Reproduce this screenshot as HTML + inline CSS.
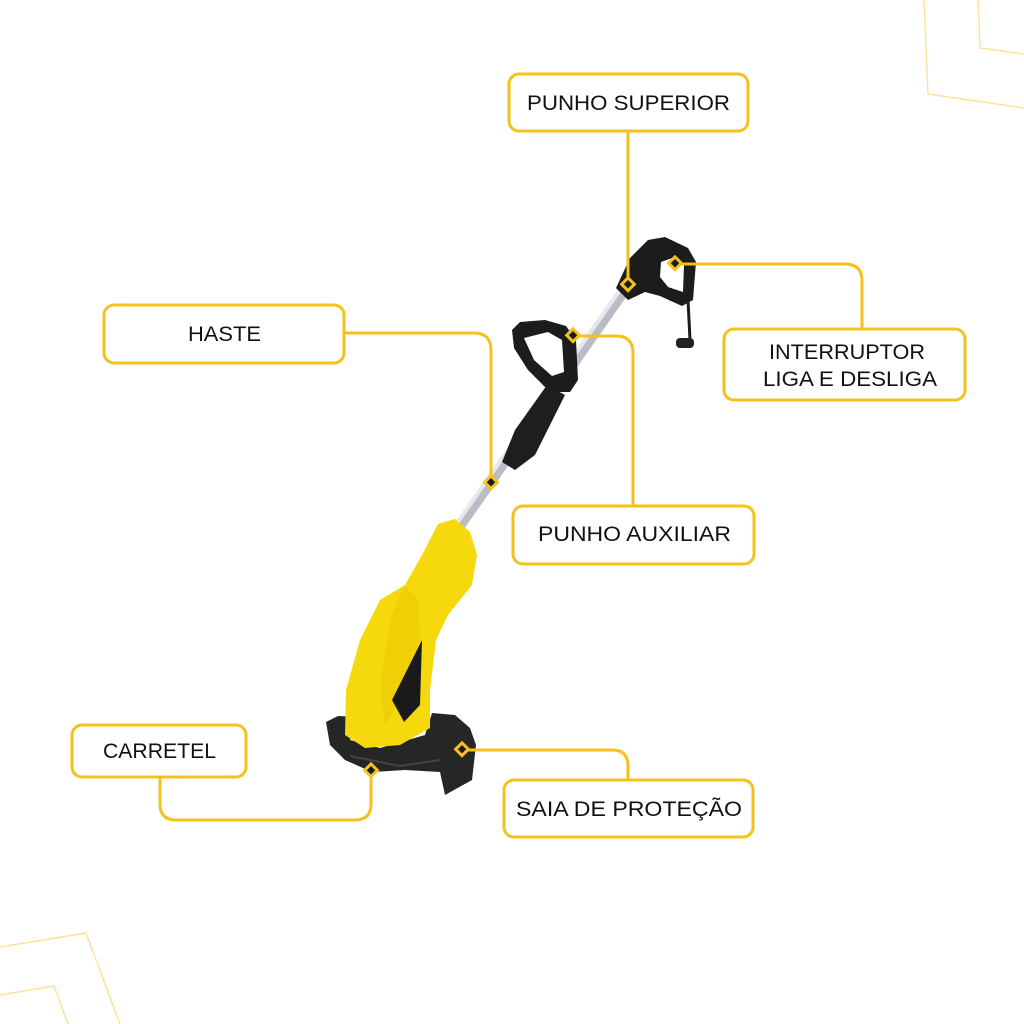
<!DOCTYPE html>
<html><head><meta charset="utf-8"><style>
html,body{margin:0;padding:0;background:#fff;}
svg{display:block}
text{font-family:"Liberation Sans",sans-serif;font-size:21px;fill:#111;}
</style></head><body>
<svg width="1024" height="1024" viewBox="0 0 1024 1024" xmlns="http://www.w3.org/2000/svg">
<g fill="none" stroke="#FBE39A" stroke-width="1.5">
<polyline points="924,0 928,94 1024,108"/>
<polyline points="978,0 980,48 1024,54"/>
<polyline points="0,947 86,933 120,1024"/>
<polyline points="0,995 54,986 68,1024"/>
</g>

<!-- shaft -->
<line x1="458" y1="528" x2="630" y2="282" stroke="#b9bcc4" stroke-width="11"/>
<line x1="455" y1="526" x2="627" y2="280" stroke="#e6e8ee" stroke-width="4"/>
<!-- top handle -->
<path d="M616,288 L630,258 L648,240 L665,237 L688,248 L696,262 L693,300 L682,306 L660,296 L645,292 L628,300 Z" fill="#1c1c1c"/>
<path d="M661,262 L675,257 L684,265 L683,292 L668,287 L660,277 Z" fill="#fff"/>
<path d="M688,300 L690,340" stroke="#1c1c1c" stroke-width="3" fill="none"/>
<rect x="676" y="338" width="18" height="10" rx="4" fill="#222"/>
<!-- aux handle loop -->
<path d="M512,330 L520,322 L545,320 L566,326 L576,340 L578,380 L570,392 L550,392 L528,370 L514,348 Z" fill="#1c1c1c"/>
<path d="M524,338 L548,332 L562,340 L564,372 L552,376 L534,360 Z" fill="#fff"/>
<!-- aux grip -->
<path d="M547,385 L565,395 L535,455 L515,470 L502,462 L515,430 Z" fill="#1e1e1e"/>
<!-- guard -->
<path d="M326,722 L338,716 L360,717 L350,740 L380,748 L425,735 L432,713 L455,715 L470,728 L476,745 L472,780 L445,795 L440,772 L405,770 L372,772 L345,760 L330,745 Z" fill="#262626"/>
<!-- yellow body -->
<path d="M438,524 L455,519 L470,532 L477,555 L472,585 L448,615 L436,640 L430,690 L430,728 L400,745 L365,748 L345,735 L346,690 L360,640 L380,600 L405,585 L422,555 Z" fill="#F6D90C"/>
<path d="M405,585 L418,600 L420,640 L400,700 L385,725 L380,690 L390,620 Z" fill="#ebc900" opacity="0.6"/>
<path d="M422,640 L420,705 L404,722 L392,700 Z" fill="#1a1a1a"/>
<path d="M350,756 L400,766 L440,760" stroke="#444" stroke-width="2" fill="none"/>

<!-- connectors -->
<g fill="none" stroke="#F5C21B" stroke-width="3" stroke-linejoin="round">
<path d="M628,131 L628,285"/>
<path d="M675,264 L845,264 Q862,264 862,281 L862,329"/>
<path d="M344,333 L474,333 Q491,333 491,350 L491,483"/>
<path d="M573,336 L616,336 Q633,336 633,353 L633,505"/>
<path d="M160,777 L160,804 Q160,820 176,820 L355,820 Q371,820 371,804 L371,771"/>
<path d="M462,750 L612,750 Q628,750 628,766 L628,780"/>
</g>
<g fill="#1c1c1c" stroke="#F5C21B" stroke-width="3">
<rect x="623" y="280" width="9" height="9" transform="rotate(45 628 285)"/>
<rect x="670" y="259" width="9" height="9" transform="rotate(45 675 264)"/>
<rect x="486" y="478" width="9" height="9" transform="rotate(45 491 483)"/>
<rect x="568" y="331" width="9" height="9" transform="rotate(45 573 336)"/>
<rect x="366" y="766" width="9" height="9" transform="rotate(45 371 771)"/>
<rect x="457" y="745" width="9" height="9" transform="rotate(45 462 750)"/>
</g>

<g fill="#fff" stroke="#F5C21B" stroke-width="3">
<rect x="509" y="74" width="239" height="57" rx="10"/>
<rect x="724" y="329" width="241" height="71" rx="10"/>
<rect x="104" y="305" width="240" height="58" rx="10"/>
<rect x="513" y="506" width="241" height="58" rx="10"/>
<rect x="72" y="725" width="174" height="52" rx="10"/>
<rect x="504" y="780" width="249" height="57" rx="10"/>
</g>
<text x="527" y="110" textLength="203" lengthAdjust="spacingAndGlyphs">PUNHO SUPERIOR</text>
<text x="769" y="359" textLength="156" lengthAdjust="spacingAndGlyphs">INTERRUPTOR</text>
<text x="763" y="386" textLength="174" lengthAdjust="spacingAndGlyphs">LIGA E DESLIGA</text>
<text x="188" y="341" textLength="73" lengthAdjust="spacingAndGlyphs">HASTE</text>
<text x="538" y="541" textLength="193" lengthAdjust="spacingAndGlyphs">PUNHO AUXILIAR</text>
<text x="103" y="758" textLength="113" lengthAdjust="spacingAndGlyphs">CARRETEL</text>
<text x="516" y="816" textLength="226" lengthAdjust="spacingAndGlyphs">SAIA DE PROTEÇÃO</text>
</svg>
</body></html>
